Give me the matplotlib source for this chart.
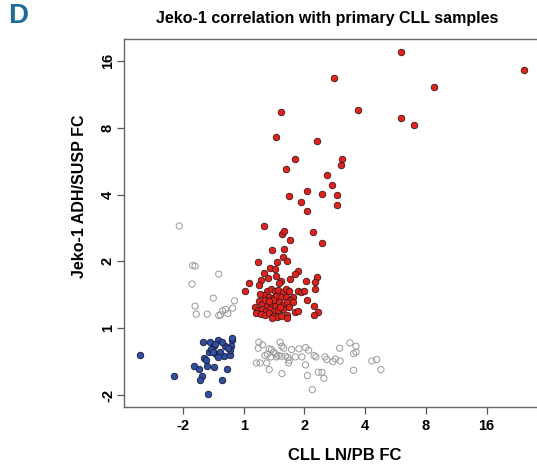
import matplotlib
matplotlib.use("Agg")
import matplotlib.pyplot as plt
import numpy as np

plt.rcParams['font.family'] = ['Liberation Sans', 'DejaVu Sans']

# values are log2 fold changes (x: CLL LN/PB, y: Jeko-1 ADH/SUSP)
red_x = [2.59, 4.61, 1.49, 3.13, 0.62, 1.89, 2.59, 2.81, 0.54, 1.20, 0.85, 1.62, 0.69, 1.60,
         1.38, 1.46, 1.04, 0.74, 1.29, 1.54, 0.95, 1.53, 1.04, 0.34,
         0.63, 0.66, 1.14, 0.76, 1.29, 0.46, 0.67, 0.65, 0.55, 0.71, 0.24, 0.34, 0.44, 0.51,
         0.89, 0.84, 0.40, 0.53, 0.29, 0.77, 1.20, 0.08, 0.26, 1.18, 1.03, 0.62, 0.59, 0.03,
         0.38, 0.45, 0.51, 0.57, 0.64, 0.69, 0.75, 0.82, 0.34, 0.41, 0.48, 0.54, 0.62, 0.69,
         0.76, 0.19, 0.25, 0.31, 0.38, 0.45, 0.52, 0.58, 0.64, 0.72, 0.23, 0.30, 0.37, 0.43,
         0.50, 0.57, 0.65, 0.21, 0.28, 0.35, 0.42, 0.49, 0.55, 0.62, 0.71, 0.72, 0.47, 0.35,
         0.49, 0.60, 0.41, 0.89, 0.94, 1.00, 1.04, 1.16, 1.23, 1.16, 0.85, 0.90, 0.75, 0.81,
         1.17, 0.27]
red_y = [4.13, 3.86, 3.74, 3.61, 3.24, 3.26, 3.14, 3.04, 2.86, 2.81, 2.54, 2.53, 2.39, 2.44,
         2.29, 2.15, 2.06, 1.98, 2.01, 2.00, 1.89, 1.85, 1.76, 1.53,
         1.41, 1.45, 1.44, 1.32, 1.27, 1.17, 1.19, 1.07, 0.99, 1.00, 0.99, 0.83, 0.90, 0.88,
         0.86, 0.81, 0.75, 0.78, 0.72, 0.74, 0.77, 0.67, 0.64, 0.69, 0.70, 0.70, 0.67, 0.56,
         0.56, 0.58, 0.55, 0.57, 0.54, 0.58, 0.55, 0.47, 0.50, 0.47, 0.45, 0.48, 0.46, 0.47,
         0.42, 0.32, 0.40, 0.36, 0.33, 0.37, 0.33, 0.39, 0.35, 0.39, 0.27, 0.28, 0.25, 0.29,
         0.26, 0.27, 0.29, 0.23, 0.21, 0.20, 0.22, 0.19, 0.17, 0.19, 0.20, 0.16, 0.16, 0.42,
         0.42, 0.32, 0.40, 0.56, 0.54, 0.55, 0.42, 0.33, 0.24, 0.20, 0.24, 0.25, 0.31, 0.39,
         0.58, 0.51]

blue_x = [-1.71, -1.14, -0.58, -0.19, -0.43, -0.55, -0.67, -0.30, -0.21, -0.48, -0.57, -0.45,
          -0.32, -0.22, -0.66, -0.62, -0.82, -0.73, -0.60, -0.49, -0.27, -0.69, -0.72, -0.36,
          -0.47, -0.53, -0.39, -0.20, -0.23, -0.42, -0.35, -0.50, -0.25]
blue_y = [-0.40, -0.71, -0.99, -0.18, -0.17, -0.20, -0.21, -0.27, -0.27, -0.27, -0.35, -0.39,
          -0.41, -0.40, -0.44, -0.48, -0.57, -0.61, -0.56, -0.58, -0.61, -0.72, -0.78, -0.78,
          -0.24, -0.31, -0.35, -0.14, -0.33, -0.43, -0.20, -0.36, -0.30]

grey_x = [-1.06, -0.84, -0.80, -0.41, -0.85, -0.50, -0.15, -0.80, -0.78, -0.60, -0.41, -0.38,
          -0.35, -0.30, -0.26, -0.18,
          0.25, 0.31, 0.24, 0.42, 0.46, 0.60, 0.63, 0.66, 0.79, 0.91, 1.02, 1.07, 1.58, 1.75,
          1.85, 1.81, 1.85, 0.35, 0.39, 0.52, 0.57, 0.62, 0.69, 0.73, 0.96, 1.16, 1.19, 1.34,
          1.37, 1.51, 1.59, 1.47, 2.11, 2.19, 2.26, 0.21, 0.27, 0.38, 0.45, 0.74, 0.75, 0.54,
          0.42, 0.63, 1.02, 1.05, 1.23, 1.29, 1.32, 1.81, 1.13, 0.49, 0.85]
grey_y = [1.53, 0.94, 0.93, 0.81, 0.66, 0.45, 0.41, 0.33, 0.21, 0.21, 0.19, 0.20,
          0.26, 0.28, 0.22, 0.30,
          -0.21, -0.25, -0.30, -0.31, -0.32, -0.21, -0.27, -0.30, -0.32, -0.31, -0.29, -0.33,
          -0.30, -0.22, -0.27, -0.38, -0.36, -0.41, -0.39, -0.38, -0.41, -0.42, -0.42, -0.44,
          -0.43, -0.41, -0.43, -0.43, -0.47, -0.46, -0.49, -0.50, -0.49, -0.47, -0.62, -0.52,
          -0.52, -0.52, -0.43, -0.52, -0.48, -0.43, -0.62, -0.68, -0.55, -0.71, -0.66, -0.66,
          -0.75, -0.63, -0.92, -0.36, -0.43]

tick_pos = [-1, 0, 1, 2, 3, 4]
tick_labels = ['-2', '1', '2', '4', '8', '16']

fig = plt.figure(figsize=(5.37, 4.66), dpi=100)
ax = fig.add_axes([124/537, 1 - 407/466, 1 - 124/537, (407 - 39)/466])

ax.scatter(grey_x, grey_y, s=20, facecolors='none', edgecolors='#9a9a9a', linewidths=0.7, zorder=2)
ax.scatter(red_x, red_y, s=22, facecolors='#e3211c', edgecolors='#3a1a1a', linewidths=0.6, zorder=3)
ax.scatter(blue_x, blue_y, s=22, facecolors='#2f4f9f', edgecolors='#1a1a3a', linewidths=0.6, zorder=3)

ax.set_xlim(-1.97, 4.83)
ax.set_ylim(-1.18, 4.33)
ax.set_xticks(tick_pos)
ax.set_xticklabels(tick_labels, fontsize=10.5, fontweight='bold')
ax.set_yticks(tick_pos)
ax.set_yticklabels(tick_labels, fontsize=10.5, fontweight='bold', rotation=90, va='center')
ax.tick_params(axis='both', length=5, width=0.9, color='#555555')
ax.tick_params(axis='x', pad=4)
ax.tick_params(axis='y', pad=1.5)
for side in ['left', 'bottom', 'top']:
    ax.spines[side].set_color('#666666')
    ax.spines[side].set_linewidth(1.0)
ax.spines['right'].set_visible(False)

fig.text(345/537, 1 - 456/466, 'CLL LN/PB FC', ha='center', va='center', fontsize=12, fontweight='bold')
fig.text(80/537, 1 - 196/466, 'Jeko-1 ADH/SUSP FC', ha='center', va='center', fontsize=11.5,
         fontweight='bold', rotation=90)
fig.text(327/537, 1 - 19/466, 'Jeko-1 correlation with primary CLL samples', ha='center', va='center',
         fontsize=11.5, fontweight='bold')
fig.text(8/537, 1 - 16/466, 'D', ha='left', va='center', fontsize=20, fontweight='bold',
         color='#1f6c9c', family=['Liberation Sans Narrow', 'Liberation Sans', 'DejaVu Sans'])

fig.savefig('out.png', dpi=100)
